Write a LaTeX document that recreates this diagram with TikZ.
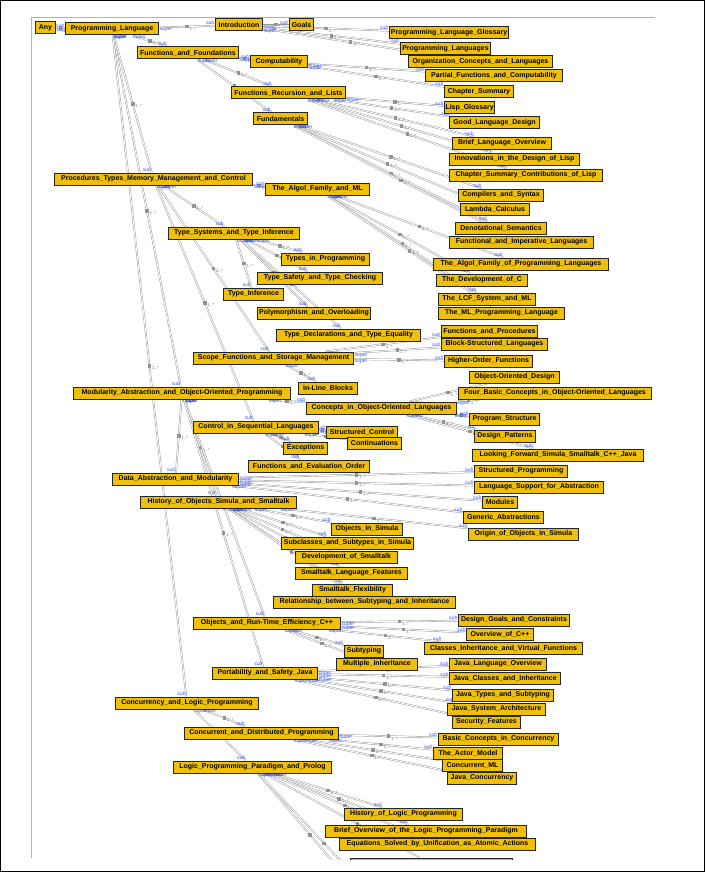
\documentclass[tikz,border=0pt]{standalone}
\usepackage{fontspec}
\setmainfont{Liberation Sans}
\definecolor{classgold}{RGB}{240,192,6}
\definecolor{relblue}{RGB}{55,85,245}
\pgfdeclarelayer{edges}
\pgfsetlayers{edges,main}
\tikzset{
  cls/.style={draw=black!85, line width=1pt, fill=classgold, anchor=west, inner sep=1pt,
    minimum height=12pt, font=\fontsize{7}{8}\selectfont\bfseries},
  relline/.style={draw=gray!80, line width=0.45pt, double=white, double distance=0.9pt},
  card/.style={fill=gray!85, inner sep=0pt, minimum size=3.5pt},
  cardtxt/.style={anchor=north west, inner sep=0.5pt, xshift=2pt, text=gray, font=\fontsize{4.5}{5}\selectfont},
  supl/.style={anchor=north west, inner sep=0.5pt, text=relblue, font=\fontsize{5}{5}\selectfont\itshape},
  subl/.style={anchor=south east, inner sep=0.5pt, text=relblue, font=\fontsize{5}{5}\selectfont\itshape}
}
\begin{document}
\begin{tikzpicture}[x=1pt,y=-1pt]
\useasboundingbox (0,0) rectangle (705,872);
\draw[line width=1pt] (0.5,0.5) rectangle (704.5,871.5);

% class boxes: name/left/right/y/text
\begin{scope}
\clip (31,18) rectangle (700,859);
\foreach \n/\l/\r/\y/\t in {
  any/35/55/28/Any,
  pl/65/158/29/Programming\_Language,
  intro/215/262/25/Introduction,
  goals/289/313/25/Goals,
  ff/137/238/53/Functions\_and\_Foundations,
  comp/250/307/62/Computability,
  lisp/231/345/93/Functions\_Recursion\_and\_Lists,
  fund/253/307/119/Fundamentals,
  plg/389/508/33/Programming\_Language\_Glossary,
  pls/400/490/49/Programming\_Languages,
  org/408/552/62/Organization\_Concepts\_and\_Languages,
  part/425/562/76/Partial\_Functions\_and\_Computability,
  chs/444/513/92/Chapter\_Summary,
  lispg/444/493/108/Lisp\_Glossary,
  good/449/539/123/Good\_Language\_Design,
  brief/452/551/143/Brief\_Language\_Overview,
  innov/449/579/159/Innovations\_in\_the\_Design\_of\_Lisp,
  contrib/449/602/175/Chapter\_Summary\_Contributions\_of\_Lisp,
  ptm/54/252/179/Procedures\_Types\_Memory\_Management\_and\_Control,
  algml/265/369/189/The\_Algol\_Family\_and\_ML,
  csyn/458/543/195/Compilers\_and\_Syntax,
  lamb/460/529/209/Lambda\_Calculus,
  deno/455/546/228/Denotational\_Semantics,
  fimp/449/593/242/Functional\_and\_Imperative\_Languages,
  tsti/168/299/233/Type\_Systems\_and\_Type\_Inference,
  tip/281/369/259/Types\_in\_Programming,
  algpl/433/608/264/The\_Algol\_Family\_of\_Programming\_Languages,
  tstc/257/382/278/Type\_Safety\_and\_Type\_Checking,
  devc/436/527/280/The\_Development\_of\_C,
  tinf/223/283/294/Type\_Inference,
  lcf/438/535/299/The\_LCF\_System\_and\_ML,
  poly/257/370/313/Polymorphism\_and\_Overloading,
  mlpl/438/564/313/The\_ML\_Programming\_Language,
  fproc/441/537/331/Functions\_and\_Procedures,
  tdec/276/420/335/Type\_Declarations\_and\_Type\_Equality,
  block/441/547/344/Block-Structured\_Languages,
  sfsm/193/353/358/Scope\_Functions\_and\_Storage\_Management,
  hof/444/532/361/Higher-Order\_Functions,
  ood/469/559/377/Object-Oriented\_Design,
  inl/298/357/388/In-Line\_Blocks,
  mod/73/290/393/Modularity\_Abstraction\_and\_Object-Oriented\_Programming,
  four/458/651/393/Four\_Basic\_Concepts\_in\_Object-Oriented\_Languages,
  cool/306/456/408/Concepts\_in\_Object-Oriented\_Languages,
  pstr/469/539/419/Program\_Structure,
  csl/193/318/427/Control\_in\_Sequential\_Languages,
  sctl/326/397/432/Structured\_Control,
  dpat/474/535/436/Design\_Patterns,
  cont/347/401/443/Continuations,
  exc/283/327/448/Exceptions,
  look/472/643/455/Looking\_Forward\_Simula\_Smalltalk\_C++\_Java,
  feo/248/369/466/Functions\_and\_Evaluation\_Order,
  spro/474/567/471/Structured\_Programming,
  dam/112/238/479/Data\_Abstraction\_and\_Modularity,
  lsa/474/603/487/Language\_Support\_for\_Abstraction,
  hos/140/296/502/History\_of\_Objects\_Simula\_and\_Smalltalk,
  modl/482/517/502/Modules,
  gen/463/543/517/Generic\_Abstractions,
  osim/331/402/529/Objects\_in\_Simula,
  orig/468/578/534/Origin\_of\_Objects\_in\_Simula,
  subc/281/413/543/Subclasses\_and\_Subtypes\_in\_Simula,
  devs/295/397/557/Development\_of\_Smalltalk,
  slf/295/407/573/Smalltalk\_Language\_Features,
  sflex/312/392/590/Smalltalk\_Flexibility,
  rsi/273/455/602/Relationship\_between\_Subtyping\_and\_Inheritance,
  dgc/458/569/620/Design\_Goals\_and\_Constraints,
  ortc/193/340/623/Objects\_and\_Run-Time\_Efficiency\_C++,
  ovc/466/533/634/Overview\_of\_C++,
  civf/424/582/648/Classes\_Inheritance\_and\_Virtual\_Functions,
  styp/344/383/651/Subtyping,
  mi/336/417/664/Multiple\_Inheritance,
  jlo/449/546/664/Java\_Language\_Overview,
  psj/212/317/673/Portability\_and\_Safety\_Java,
  jci/449/560/678/Java\_Classes\_and\_Inheritance,
  jts/452/553/695/Java\_Types\_and\_Subtyping,
  clp/115/258/703/Concurrency\_and\_Logic\_Programming,
  jsa/447/545/709/Java\_System\_Architecture,
  sec/452/520/722/Security\_Features,
  cdp/184/338/733/Concurrent\_and\_Distributed\_Programming,
  bcc/438/558/739/Basic\_Concepts\_in\_Concurrency,
  actor/433/502/753/The\_Actor\_Model,
  cml/442/502/765/Concurrent\_ML,
  lpp/173/331/767/Logic\_Programming\_Paradigm\_and\_Prolog,
  jcon/447/516/778/Java\_Concurrency,
  hlp/344/462/814/History\_of\_Logic\_Programming,
  bolp/325/526/831/Brief\_Overview\_of\_the\_Logic\_Programming\_Paradigm,
  esu/339/535/844/Equations\_Solved\_by\_Unification\_as\_Atomic\_Actions,
  lpcut/350/512/864/{}}
  \node[cls, minimum width={(\r-\l)*1pt}] (\n) at (\l,\y) {\t};
\coordinate (lpc1) at (345,876);
\coordinate (lpc2) at (368,890);
\end{scope}

% sub / super relations
\begin{pgfonlayer}{edges}
\begin{scope}
\clip (31,18) rectangle (700,859);
\foreach \p/\c in {any/pl, pl/intro, pl/ff, pl/ptm, pl/mod, pl/clp,
  intro/goals, intro/plg, intro/pls, intro/org,
  ff/comp, ff/lisp, ff/fund, comp/part, comp/chs,
  lisp/lispg, lisp/good, lisp/brief, lisp/innov, lisp/contrib,
  fund/csyn, fund/lamb, fund/deno, fund/fimp,
  ptm/algml, ptm/tsti, ptm/sfsm, ptm/csl,
  algml/algpl, algml/devc, algml/lcf, algml/mlpl,
  tsti/tip, tsti/tstc, tsti/tinf, tsti/poly, tsti/tdec,
  sfsm/inl, sfsm/fproc, sfsm/block, sfsm/hof,
  csl/sctl, csl/exc, csl/cont, csl/feo,
  mod/cool, mod/dam, mod/hos, mod/ortc, mod/psj,
  cool/ood, cool/four, cool/pstr, cool/dpat, cool/look,
  dam/spro, dam/lsa, dam/modl, dam/gen,
  hos/orig, hos/osim, hos/subc, hos/devs, hos/slf, hos/sflex, hos/rsi,
  ortc/dgc, ortc/ovc, ortc/civf, ortc/styp, ortc/mi,
  psj/jlo, psj/jci, psj/jts, psj/jsa, psj/sec,
  clp/cdp, clp/lpp, cdp/bcc, cdp/actor, cdp/cml, cdp/jcon,
  lpp/hlp, lpp/bolp, lpp/esu}
  \draw[relline] (\p) -- (\c)
    node[pos=.5, card] {}
    node[pos=.5, cardtxt] {1..*}
    node[at start, supl] {super}
    node[at end, subl] {sub};
% children below the frame
\foreach \c in {lpcut, lpc1, lpc2}
  \draw[relline] (lpp) -- (\c)
    node[pos=.6, card] {}
    node[at start, supl] {super};
\end{scope}
\end{pgfonlayer}

% screenshot frame
\draw[gray!60, line width=1pt] (31,858) -- (31,18) -- (655,18);
\end{tikzpicture}
\end{document}
